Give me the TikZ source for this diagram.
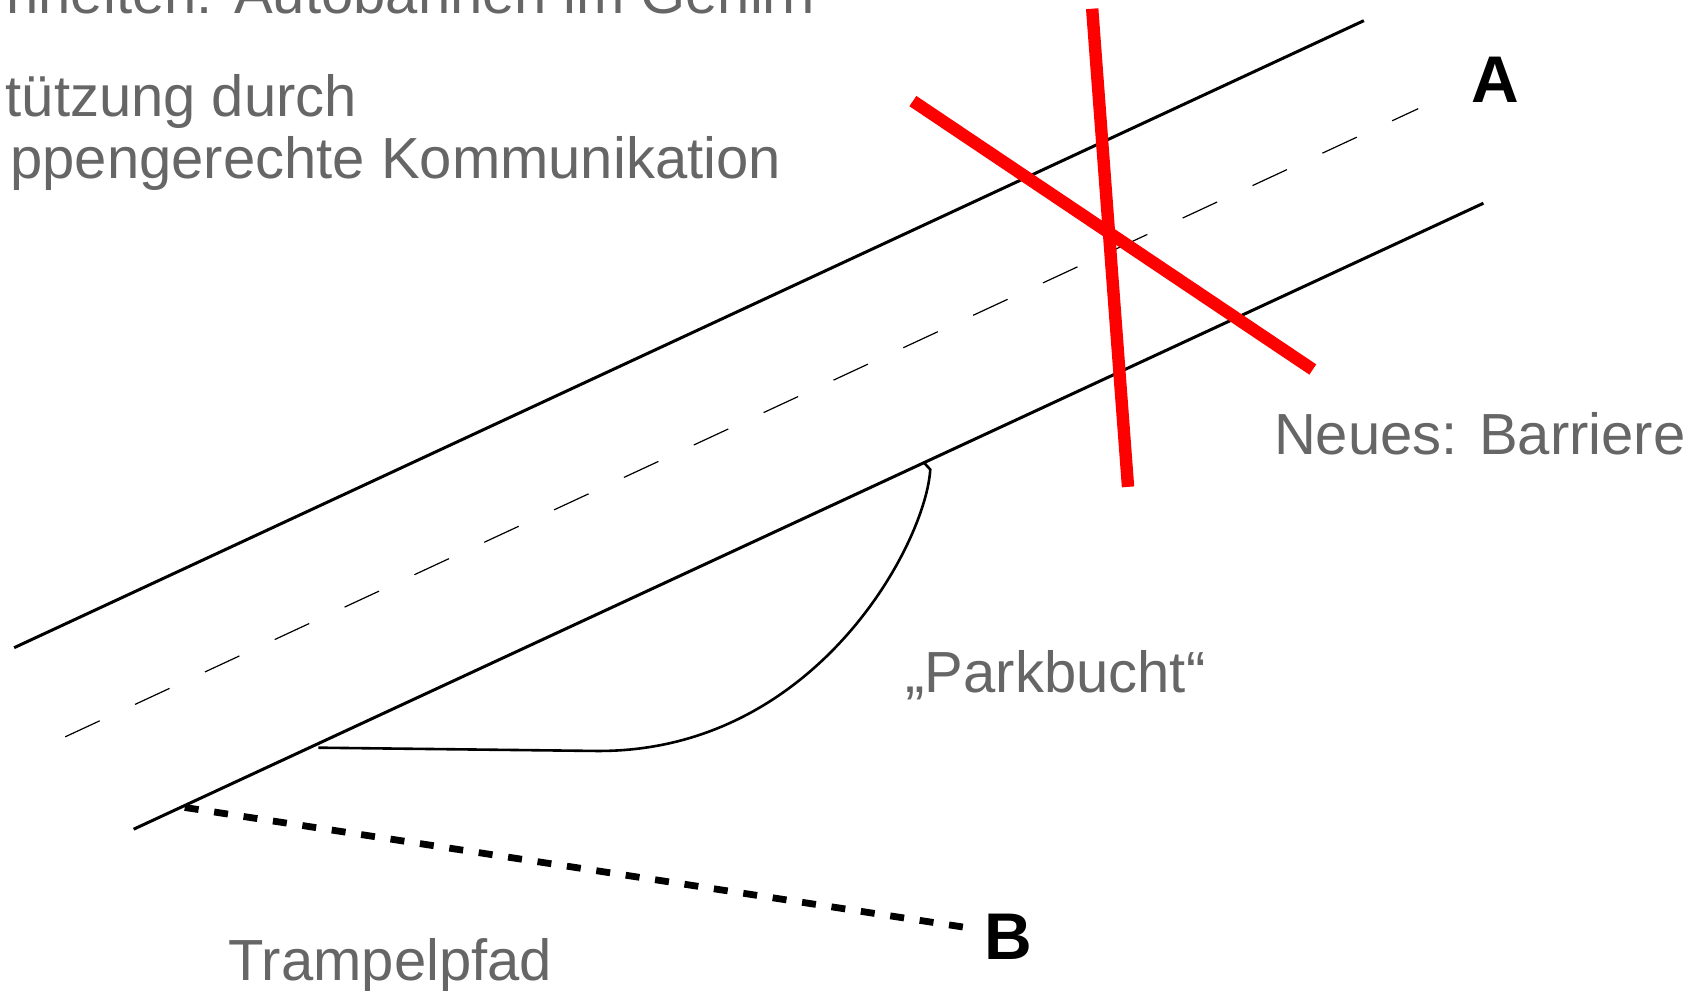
\documentclass[tikz,border=0pt]{standalone}
\usepackage{fontspec}
\setmainfont{Liberation Sans}
\definecolor{txtgray}{HTML}{666666}
\definecolor{barred}{HTML}{FF0000}
\begin{document}
\begin{tikzpicture}[x=0.54337pt,y=-0.54337pt,
  road/.style={draw=black,line width=1.5pt},
  midline/.style={draw=black,line width=0.6pt,dash pattern=on 19pt off 19.5pt},
  bay/.style={draw=black,line width=1.3pt},
  barrier/.style={draw=barred,line width=6.2pt},
  path/.style={draw=black,line width=3.4pt,dash pattern=on 7pt off 7.87pt},
  label/.style={text=txtgray,font=\fontsize{29}{34}\selectfont,inner sep=0pt},
  point/.style={text=black,font=\fontsize{33}{38}\selectfont\bfseries,inner sep=0pt}]
\useasboundingbox (0,0) rectangle (1568,911);
\clip (0,0) rectangle (1568,911);
% road edges and centre line
\coordinate (u1) at (13,596);  \coordinate (u2) at (1255,19);
\coordinate (l1) at (123,763); \coordinate (l2) at (1365,187);
\coordinate (c1) at (60,678);  \coordinate (c2) at (1305,100);
\draw[road] (u1) -- (u2);
\draw[road] (l1) -- (l2);
\draw[midline] (c1) -- (c2);
% parking bay
\coordinate (p0) at (293,688); \coordinate (p1) at (548,691);
\coordinate (p2) at (856,432); \coordinate (p3) at (850,425.5);
\draw[bay] (p0) -- (p1) .. controls (750,693) and (852,500) .. (p2) -- (p3);
% barrier cross
\coordinate (r1a) at (840,93);  \coordinate (r1b) at (1208,340);
\coordinate (r2a) at (1005,8);  \coordinate (r2b) at (1038,448);
\draw[barrier] (r1a) -- (r1b);
\draw[barrier] (r2a) -- (r2b);
% trodden path
\coordinate (t1) at (170,743);
\node[point] (B) at (928,862) {B};
\coordinate (t2) at (886,853);
\draw[path] (t1) -- (t2);
\node[point] (A) at (1376,73) {A};
% texts
\node[label,anchor=base east] (h1) at (750,12) {nheiten: Autobahnen im Gehirn};
\node[label,anchor=base east] (h2) at (329,107.5) {tützung durch};
\node[label,anchor=base east] (h3) at (719,164) {ppengerechte Kommunikation};
\node[label,anchor=base west] (neu) at (1172,418) {Neues: Barriere};
\node[label,anchor=base west] (park) at (833,637) {„Parkbucht“};
\node[label,anchor=base west] (tram) at (210,902) {Trampelpfad};
\end{tikzpicture}
\end{document}
